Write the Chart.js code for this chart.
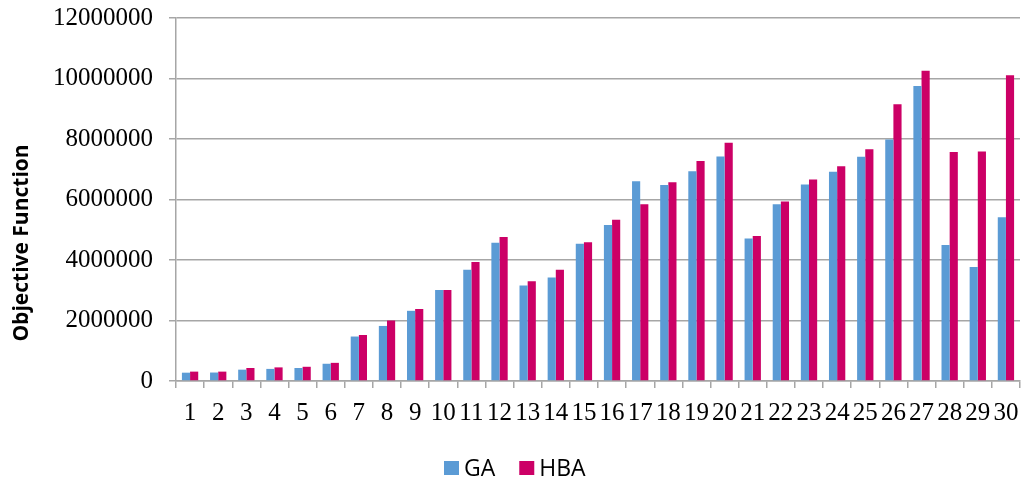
<!DOCTYPE html>
<html>
<head>
<meta charset="utf-8">
<script src="https://cdn.jsdelivr.net/npm/chart.js@4/dist/chart.umd.min.js"></script>
<style>
  html, body { margin: 0; padding: 0; background: #ffffff; }
  #wrap { width: 1024px; height: 482px; }
</style>
</head>
<body>
<div id="wrap"><canvas id="c" width="1024" height="482"></canvas></div>
<script>
// Instance numbers 1..30
const categories = ['1','2','3','4','5','6','7','8','9','10','11','12','13','14','15',
                    '16','17','18','19','20','21','22','23','24','25','26','27','28','29','30'];

// Objective function values per instance
const gaValues = [275000, 280000, 375000, 400000, 430000, 570000, 1470000, 1820000, 2320000, 3010000,
                  3680000, 4570000, 3160000, 3420000, 4540000, 5160000, 6600000, 6480000, 6930000, 7420000,
                  4710000, 5840000, 6500000, 6920000, 7410000, 7980000, 9750000, 4500000, 3770000, 5410000];
const hbaValues = [310000, 310000, 430000, 450000, 470000, 600000, 1520000, 2000000, 2380000, 3010000,
                   3930000, 4760000, 3300000, 3680000, 4590000, 5330000, 5840000, 6570000, 7270000, 7880000,
                   4790000, 5930000, 6660000, 7100000, 7660000, 9150000, 10260000, 7570000, 7590000, 10110000];

const seriesNames = ['GA', 'HBA'];
const yTicks = [0, 2000000, 4000000, 6000000, 8000000, 10000000, 12000000];
const yTitle = 'Objective Function';

const colors = ['#5B9BD5', '#CC0066'];
const gridColor = '#a6a6a6';
const serif = "'Liberation Serif', 'Times New Roman', serif";
const sans = "'Open Sans', 'Noto Sans', sans-serif";

// Rotated axis title and a centred legend under the axis labels
const extras = {
  id: 'extras',
  afterDraw(chart) {
    const ctx = chart.ctx;
    ctx.save();
    ctx.fillStyle = '#000000';
    ctx.font = "bold 21px " + sans;
    ctx.textAlign = 'center';
    ctx.textBaseline = 'middle';
    ctx.translate(22, 243);
    ctx.rotate(-Math.PI / 2);
    ctx.fillText(yTitle, 0, 0);
    ctx.restore();

    ctx.save();
    ctx.font = "23px " + sans;
    ctx.textBaseline = 'middle';
    const box = 15, gapText = 5, gapItem = 24, cy = 468;
    const items = chart.data.datasets.map(d => ({ label: d.label, color: d.backgroundColor }));
    let x = 444;
    items.forEach(it => {
      ctx.fillStyle = it.color;
      ctx.fillRect(x, cy - 7, box, 14);
      ctx.fillStyle = '#000000';
      ctx.textAlign = 'left';
      ctx.fillText(it.label, x + box + gapText, cy + 1);
      x += box + gapText + ctx.measureText(it.label).width + gapItem;
    });
    ctx.restore();
  }
};

new Chart(document.getElementById('c'), {
  type: 'bar',
  data: {
    labels: categories,
    datasets: [
      { label: seriesNames[0], data: gaValues, backgroundColor: colors[0], borderWidth: 0 },
      { label: seriesNames[1], data: hbaValues, backgroundColor: colors[1], borderWidth: 0 }
    ]
  },
  options: {
    responsive: false,
    animation: false,
    devicePixelRatio: 1,
    layout: { padding: { top: 18, right: 4, bottom: 0, left: 0 } },
    datasets: { bar: { categoryPercentage: 0.58, barPercentage: 1.0 } },
    plugins: { legend: { display: false }, tooltip: { enabled: false } },
    scales: {
      x: {
        offset: true,
        afterFit(scale) {
          scale.height = 101;
          scale.paddingLeft = 0;
          scale.paddingRight = 0;
        },
        grid: { display: true, drawOnChartArea: false, drawTicks: true, tickLength: 7, color: gridColor, lineWidth: 1.5, offset: true },
        border: { display: true, color: gridColor, width: 1.5 },
        ticks: { autoSkip: false, maxRotation: 0, minRotation: 0, padding: 10, color: '#000000',
                 font: { family: serif, size: 25 } }
      },
      y: {
        min: 0,
        max: 12000000,
        afterFit(scale) {
          scale.width = 176;
          scale.paddingTop = 0;
          scale.paddingBottom = 0;
        },
        afterBuildTicks(scale) { scale.ticks = yTicks.map(v => ({ value: v })); },
        grid: { color: gridColor, lineWidth: 1.5, tickLength: 7 },
        border: { display: true, color: gridColor, width: 1.5 },
        ticks: { padding: 16, color: '#000000', font: { family: serif, size: 25 },
                 callback: v => String(v) }
      }
    }
  },
  plugins: [extras]
});
</script>
</body>
</html>
